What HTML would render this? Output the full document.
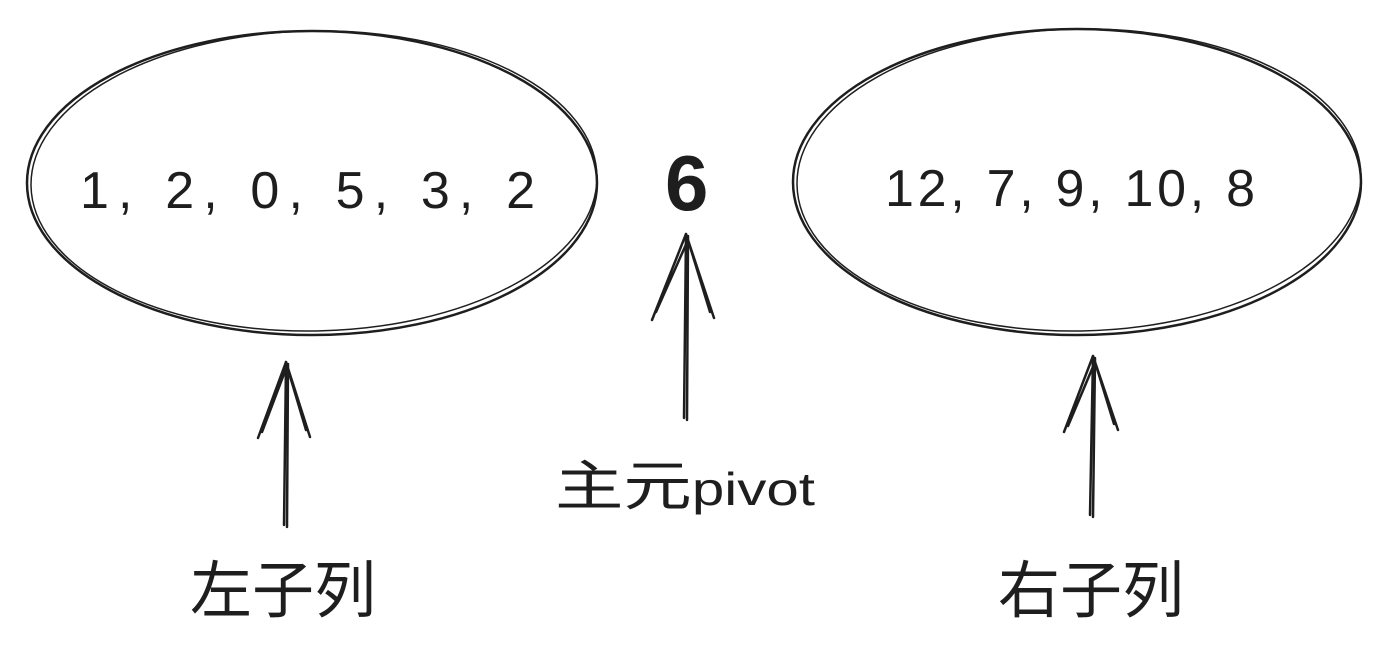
<!DOCTYPE html>
<html><head><meta charset="utf-8"><style>
html,body{margin:0;padding:0;background:#fff;}
svg{display:block;}
text{font-family:"Liberation Sans","Noto Sans CJK SC",sans-serif;fill:#1e1e1e;}
</style></head><body>
<svg width="1392" height="663" viewBox="0 0 1392 663">
<g fill="none" stroke="#1e1e1e" stroke-width="2.5" stroke-linecap="round">
  <g>
    <ellipse cx="312" cy="183" rx="285" ry="152"/>
    <ellipse cx="314" cy="181" rx="283" ry="150" stroke-width="1.5" transform="rotate(-1 312 183)"/>
  </g>
  <g>
    <ellipse cx="1077" cy="182" rx="284" ry="153"/>
    <ellipse cx="1079" cy="180" rx="282" ry="151" stroke-width="1.5" transform="rotate(-1 1077 182)"/>
  </g>
  <g>
    <path d="M284 525 L286 362 M287 527 L288 364"/>
    <path d="M286 362 L258 438 M286 362 L310 437 M287 366 L262 432 M287 366 L306 430"/>
  </g>
  <g>
    <path d="M684 418 L686 234 M687 420 L688 236"/>
    <path d="M686 234 L652 320 M686 234 L714 318 M688 240 L656 312 M688 240 L710 312"/>
  </g>
  <g>
    <path d="M1090 515 L1093 356 M1093 517 L1095 358"/>
    <path d="M1093 356 L1064 432 M1093 356 L1118 430 M1095 362 L1068 426 M1095 362 L1114 424"/>
  </g>
</g>
<text x="80" y="208" font-size="52" textLength="455" lengthAdjust="spacing">1, 2, 0, 5, 3, 2</text>
<text x="665" y="210" font-size="78" font-weight="bold">6</text>
<text x="885" y="206" font-size="52" textLength="370" lengthAdjust="spacing">12, 7, 9, 10, 8</text>
<text x="555" y="505" font-size="54" textLength="260" lengthAdjust="spacingAndGlyphs">主元<tspan font-size="46">pivot</tspan></text>
<text x="190" y="612" font-size="62">左子列</text>
<text x="998" y="612" font-size="62">右子列</text>
</svg>
</body></html>
